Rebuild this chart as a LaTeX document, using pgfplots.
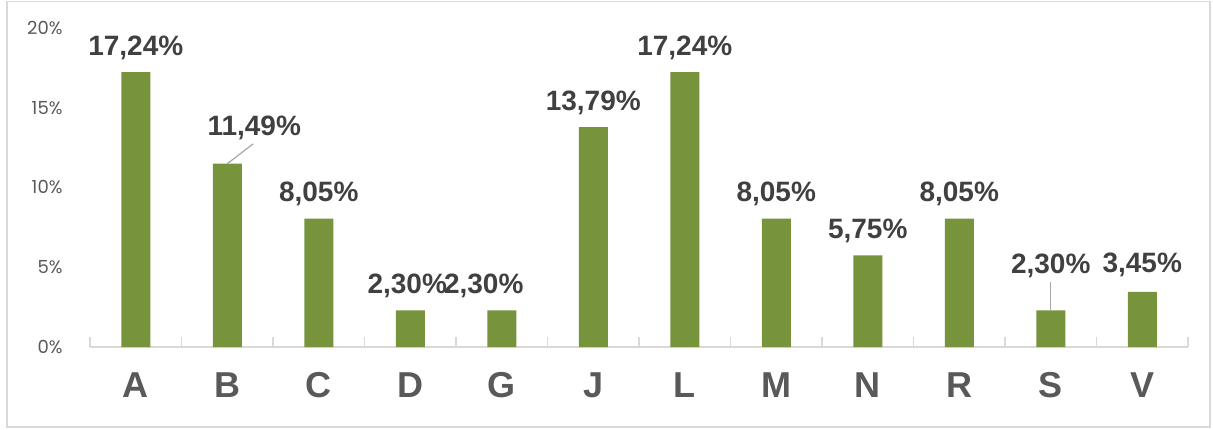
\documentclass[border=0pt]{standalone}
\usepackage{pgfplots}
\usepackage{pgfplotstable}
\pgfplotsset{compat=1.18}
\usepackage{fontspec}
\setmainfont{Liberation Sans}
\newfontfamily\tickfont{Poppins}
\newcommand\tl[1]{{\tickfont\fontsize{18}{20}\selectfont #1\%}}
\definecolor{barcol}{HTML}{77933C}
\definecolor{labcol}{HTML}{404040}
\definecolor{catcol}{HTML}{595959}
\definecolor{tickcol}{HTML}{595959}
\definecolor{axcol}{HTML}{D9D9D9}
\definecolor{leadcol}{HTML}{A6A6A6}
\pgfplotstableread{
x y dx dy
0 17.24 0 0
1 11.49 27 11
2 8.05 0 0
3 2.30 -3 0
4 2.30 -18 0
5 13.79 0 0
6 17.24 0 0
7 8.05 0 0
8 5.75 0 0
9 8.05 0 0
10 2.30 0 20
11 3.45 0 2
}\data
\begin{document}
\begin{tikzpicture}
\useasboundingbox (0pt,0pt) rectangle (1213pt,-430pt);
\draw[axcol, line width=1.5pt] (7pt,-1.5pt) rectangle (1210pt,-427pt);
\begin{axis}[
  at={(90pt,-347pt)}, anchor=south west,
  width=1098pt, height=319pt, scale only axis,
  xmin=-0.5, xmax=11.5, ymin=0, ymax=20,
  axis x line*=bottom, axis y line*=left,
  x axis line style={axcol, line width=1.2pt, -},
  y axis line style={draw=none},
  xtick={0,...,11},
  xticklabels={A,B,C,D,G,J,L,M,N,R,S,V},
  major x tick style={draw=none},
  minor xtick={-0.5,0.5,...,11.5},
  minor x tick style={axcol, line width=1.2pt},
  minor tick length=10pt,
  tick align=inside,
  xticklabel style={font=\fontsize{36}{38}\selectfont\bfseries, text=catcol, anchor=base, yshift=-50pt},
  ytick={0,5,10,15,20},
  yticklabels={\tl{0},\tl{5},\tl{10},\tl{15},\tl{20}},
  major y tick style={draw=none},
  yticklabel style={text=tickcol, anchor=east, xshift=-24pt},
  clip=false,
]
\addplot[ybar, fill=barcol, draw=none, bar width=29pt, bar shift=0pt,
  visualization depends on={\thisrow{dx}\as\dx},
  visualization depends on={\thisrow{dy}\as\dy},
  nodes near coords={\pgfmathprintnumber[fixed,fixed zerofill,precision=2,use comma,assume math mode=true]{\pgfplotspointmeta}\%},
  nodes near coords style={font=\fontsize{28}{30}\selectfont\bfseries, text=labcol, anchor=base, inner sep=0pt, xshift=\dx pt, yshift=17pt+\dy pt},
] table[x=x,y=y] {\data};
\draw[leadcol, line width=1.2pt] (axis cs:1,11.49) -- (axis cs:1.284,12.74);
\draw[leadcol, line width=1.2pt] (axis cs:10,2.30) -- (axis cs:10,4.05);
\end{axis}
\end{tikzpicture}
\end{document}
